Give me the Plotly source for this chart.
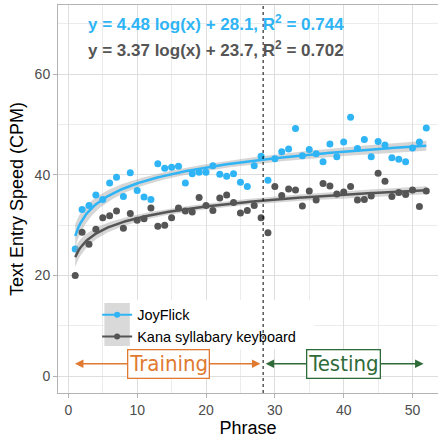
import numpy as np
import plotly.graph_objects as go

# Data
phrase = list(range(1, 53))
joyflick = [25.3, 33.1, 33.9, 36.0, 35.1, 38.4, 39.5, 35.7, 40.4, 36.9,
            35.6, 35.1, 42.2, 41.3, 41.5, 41.7, 38.4, 40.2, 40.5, 40.5,
            41.8, 40.1, 39.7, 40.2, 38.5, 37.7, 41.8, 43.7, 38.9, 43.2,
            44.6, 45.1, 49.2, 43.8, 45.0, 44.2, 42.6, 46.1, 43.6, 46.5,
            51.4, 45.2, 47.0, 43.6, 46.6, 45.9, 43.4, 43.1, 42.6, 45.3,
            46.5, 49.3]
kana = [20.0, 28.6, 26.2, 29.2, 31.5, 31.9, 32.8, 29.4, 32.3, 31.0,
        31.3, 33.4, 29.8, 30.0, 31.5, 33.4, 32.8, 32.6, 35.5, 33.9,
        32.9, 35.4, 36.0, 34.5, 32.4, 32.9, 33.9, 31.5, 28.5, 37.7,
        35.9, 37.2, 37.0, 33.8, 36.8, 35.0, 38.3, 37.8, 36.2, 36.6,
        37.7, 35.0, 35.1, 35.8, 40.3, 38.7, 35.7, 36.5, 36.1, 37.0,
        33.7, 36.8]
series_names = ["JoyFlick", "Kana syllabary keyboard"]
equations = ["y = 4.48 log(x) + 28.1, R<sup>2</sup> = 0.744",
             "y = 3.37 log(x) + 23.7, R<sup>2</sup> = 0.702"]
split_phrase = 28.3
phase_labels = ["Training", "Testing"]

BLUE = "#2fb4f5"
GRAY = "#555555"
ORANGE = "#e07a31"
GREEN = "#2f6b39"


def log_fit(x, y):
    x = np.asarray(x, float)
    y = np.asarray(y, float)
    lx = np.log(x)
    b, a = np.polyfit(lx, y, 1)
    n = len(x)
    resid = y - (a + b * lx)
    s = np.sqrt(np.sum(resid ** 2) / (n - 2))
    sxx = np.sum((lx - lx.mean()) ** 2)
    xs = np.linspace(x.min(), x.max(), 200)
    lxs = np.log(xs)
    fit = a + b * lxs
    se = s * np.sqrt(1 / n + (lxs - lx.mean()) ** 2 / sxx)
    return xs, fit, fit - 2.009 * se, fit + 2.009 * se


fig = go.Figure()

for y, col in [(joyflick, BLUE), (kana, GRAY)]:
    xs, fit, lo, hi = log_fit(phrase, y)
    fig.add_trace(go.Scatter(x=np.concatenate([xs, xs[::-1]]),
                             y=np.concatenate([hi, lo[::-1]]),
                             fill="toself", fillcolor="rgba(153,153,153,0.4)",
                             line=dict(width=0), hoverinfo="skip",
                             showlegend=False))
    fig.add_trace(go.Scatter(x=phrase, y=y, mode="markers",
                             marker=dict(color=col, size=7), showlegend=False))
    fig.add_trace(go.Scatter(x=xs, y=fit, mode="lines",
                             line=dict(color=col, width=2.5), showlegend=False))

# legend entries
for name, col in zip(series_names, [BLUE, GRAY]):
    fig.add_trace(go.Scatter(x=[None], y=[None], mode="lines+markers", name=name,
                             line=dict(color=col, width=2),
                             marker=dict(color=col, size=6)))

# legend background and key box
fig.add_shape(type="rect", xref="paper", yref="paper", x0=0.125, x1=0.675,
              y0=0.113, y1=0.240, fillcolor="white", line_width=0, layer="above")
fig.add_shape(type="rect", xref="paper", yref="paper", x0=0.122, x1=0.189,
              y0=0.121, y1=0.232, fillcolor="#d9d9d9", line_width=0, layer="above")

# split line
fig.add_vline(x=split_phrase, line=dict(color="black", width=1, dash="3px,3px"))

# training / testing arrows
arrow_y = 2.5
for (x0, x1, cx, label, col) in [(0.75, 27.9, 14.5, phase_labels[0], ORANGE),
                                  (28.45, 51.6, 39.9, phase_labels[1], GREEN)]:
    fig.add_annotation(x=x1, y=arrow_y, ax=x0, ay=arrow_y, xref="x", yref="y",
                       axref="x", ayref="y", text="", showarrow=True,
                       arrowhead=2, startarrowhead=2, arrowside="end+start",
                       arrowsize=1.3, startarrowsize=1.3, arrowwidth=1.3,
                       arrowcolor=col)
    fig.add_annotation(x=cx, y=arrow_y, xref="x", yref="y", text=label,
                       showarrow=False, bgcolor="white", bordercolor=col,
                       borderwidth=1.3, borderpad=1,
                       font=dict(family="DejaVu Sans Condensed, Liberation Sans Narrow, Open Sans",
                                 size=22, color=col))

# equations
for i, (eq, col) in enumerate(zip(equations, [BLUE, GRAY])):
    fig.add_annotation(x=2.6, y=[70.1, 65.0][i], xref="x", yref="y",
                       text="<b>" + eq + "</b>", showarrow=False,
                       xanchor="left", yanchor="middle",
                       font=dict(family="Liberation Sans", size=17, color=col))

fig.update_layout(
    width=438, height=440,
    margin=dict(l=58, r=0, t=5, b=47),
    plot_bgcolor="white", paper_bgcolor="white",
    font=dict(family="Liberation Sans", color="#4d4d4d", size=14),
    legend=dict(x=0.103, y=0.243, xanchor="left", yanchor="top",
                bgcolor="rgba(0,0,0,0)", font=dict(size=14.5, color="black")),
    showlegend=True,
)
fig.update_xaxes(range=[-1.5, 53.7], tickvals=[0, 10, 20, 30, 40, 50],
                 showgrid=True, gridcolor="#dedede", gridwidth=1,
                 minor=dict(tickvals=[5, 15, 25, 35, 45], showgrid=True,
                            gridcolor="#ececec", gridwidth=1),
                 showline=True, linecolor="#b3b3b3", linewidth=1, mirror=True,
                 ticks="outside", ticklen=4, tickcolor="#b3b3b3",
                 zeroline=False,
                 title=dict(text="Phrase", font=dict(size=18, color="black"), standoff=4))
fig.update_yaxes(range=[-3.3, 73.7], tickvals=[0, 20, 40, 60],
                 showgrid=True, gridcolor="#dedede", gridwidth=1,
                 minor=dict(tickvals=[10, 30, 50, 70], showgrid=True,
                            gridcolor="#ececec", gridwidth=1),
                 showline=True, linecolor="#b3b3b3", linewidth=1,
                 ticks="outside", ticklen=4, tickcolor="#b3b3b3",
                 zeroline=False,
                 title=dict(text="Text Entry Speed (CPM)", font=dict(size=18, color="black"),
                            standoff=6))

fig.write_html("out.html", config={"displayModeBar": False},
               post_script="document.body.style.margin='0';")
